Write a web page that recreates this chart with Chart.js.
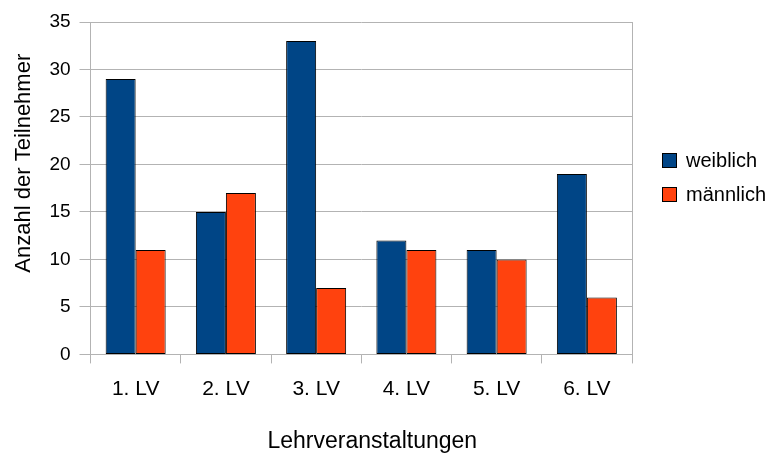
<!DOCTYPE html>
<html><head><meta charset="utf-8">
<script src="https://cdn.jsdelivr.net/npm/chart.js@4"></script>
<style>html,body{margin:0;padding:0;background:#fff}#wrap{width:773px;height:453px}</style>
</head><body><div id="wrap"><canvas id="c" width="773" height="453"></canvas></div>
<script>
const categories = ["1. LV","2. LV","3. LV","4. LV","5. LV","6. LV"];
const weiblich = [29,15,33,12,11,19];
const maennlich = [11,17,7,11,10,6];
const seriesNames = ["weiblich","männlich"];
const seriesColors = ["#004586","#ff420e"];
const yTicks = [0,5,10,15,20,25,30,35];
const xTitle = "Lehrveranstaltungen";
const yTitle = "Anzahl der Teilnehmer";

const FONT = "'Liberation Sans', Arial, sans-serif";
Chart.defaults.font.family = FONT;
Chart.defaults.color = "#000";

const frameAndLegend = {
  id: 'frameAndLegend',
  afterDraw(chart) {
    const {ctx, chartArea:a} = chart;
    ctx.save();
    ctx.strokeStyle = '#b3b3b3'; ctx.lineWidth = 1;
    const rx = Math.round(a.right) + 0.5;
    ctx.beginPath(); ctx.moveTo(rx, a.top); ctx.lineTo(rx, a.bottom); ctx.stroke();
    // legend
    const bx = Math.round(a.right) + 30;
    let by = Math.round(a.top) + 131;
    ctx.font = "20px " + FONT;
    ctx.textBaseline = 'middle';
    ctx.textAlign = 'left';
    chart.data.datasets.forEach(ds => {
      ctx.fillStyle = ds.backgroundColor;
      ctx.fillRect(bx, by, 15, 15);
      ctx.strokeStyle = '#000';
      ctx.strokeRect(bx + 0.5, by + 0.5, 14, 14);
      ctx.fillStyle = '#000';
      ctx.fillText(ds.label, bx + 24, by + 8);
      by += 34;
    });
    // axis titles (offset like the original)
    ctx.fillStyle = '#000';
    ctx.textAlign = 'center';
    ctx.textBaseline = 'alphabetic';
    ctx.font = "23px " + FONT;
    ctx.fillText(xTitle, (a.left + a.right) / 2 + 11, 448);
    ctx.font = "22px " + FONT;
    ctx.translate(30, (a.top + a.bottom) / 2 - 25);
    ctx.rotate(-Math.PI / 2);
    ctx.fillText(yTitle, 0, 0);
    ctx.restore();
  }
};

new Chart(document.getElementById('c'), {
  type: 'bar',
  data: {
    labels: categories,
    datasets: [
      {label: seriesNames[0], data: weiblich, backgroundColor: seriesColors[0], borderColor: '#000', borderWidth: 1, borderSkipped: false, categoryPercentage: 0.665, barPercentage: 1.0},
      {label: seriesNames[1], data: maennlich, backgroundColor: seriesColors[1], borderColor: '#000', borderWidth: 1, borderSkipped: false, categoryPercentage: 0.665, barPercentage: 1.0}
    ]
  },
  options: {
    responsive: false,
    animation: false,
    layout: {padding: {top: 22, right: 141, left: 4, bottom: 0}},
    plugins: {
      tooltip: {enabled: false},
      legend: {display: false}
    },
    scales: {
      x: {
        grid: {drawOnChartArea: false, color: '#b3b3b3', tickLength: 9, offset: true},
        border: {color: '#b3b3b3'},
        ticks: {font: {size: 21}, color: '#000', padding: 13},
        title: {display: true, text: xTitle, font: {size: 22}, color: 'rgba(0,0,0,0)', padding: {top: 12, bottom: 0}}
      },
      y: {
        min: 0, max: 35,
        afterBuildTicks(axis) { axis.ticks = yTicks.map(v => ({value: v})); },
        grid: {color: '#b3b3b3', tickLength: 11},
        border: {color: '#b3b3b3'},
        ticks: {font: {size: 19}, color: '#000', padding: 9},
        title: {display: true, text: yTitle, font: {size: 22}, color: 'rgba(0,0,0,0)', padding: {top: 5, bottom: 5}}
      }
    }
  },
  plugins: [frameAndLegend]
});
</script></body></html>
